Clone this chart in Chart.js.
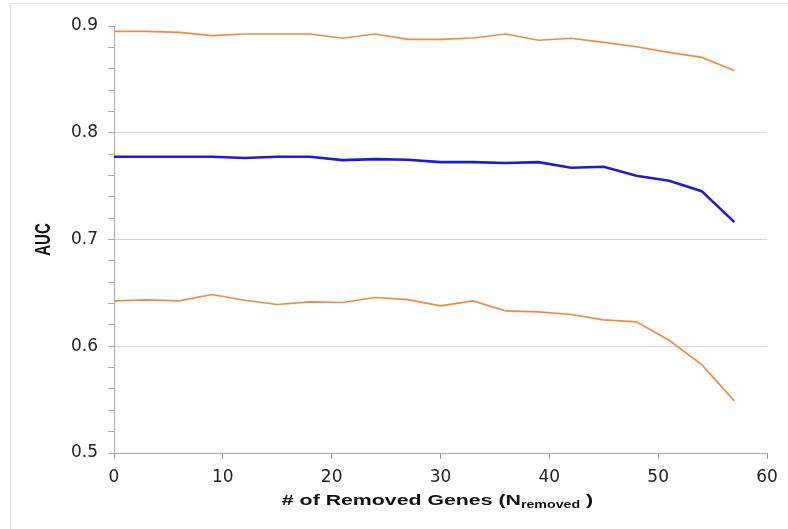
<!DOCTYPE html>
<html>
<head>
<meta charset="utf-8">
<script src="https://cdn.jsdelivr.net/npm/chart.js@4.4.1/dist/chart.umd.min.js"></script>
<style>
  html, body { margin: 0; padding: 0; background: #fff; overflow: hidden; }
  #wrap { position: relative; width: 788px; height: 529px; }
  #frame { position: absolute; left: 10px; top: 3px; width: 900px; height: 700px;
           border: 1px solid #e2e2e2; box-sizing: border-box; }
  canvas { position: absolute; left: 0; top: 0; }
</style>
</head>
<body>
<div id="wrap">
  <div id="frame"></div>
  <canvas id="myChart" width="788" height="529"></canvas>
</div>
<script>
// genes removed (x) and AUC values
const removed = [0, 3, 6, 9, 12, 15, 18, 21, 24, 27, 30, 33, 36, 39, 42, 45, 48, 51, 54, 57];
const upperAUC = [0.895, 0.895, 0.894, 0.891, 0.8925, 0.8925, 0.8925, 0.8885, 0.8925, 0.8875,
                  0.8875, 0.8887, 0.8925, 0.8866, 0.8885, 0.8847, 0.8806, 0.8753, 0.8706, 0.8584];
const meanAUC = [0.7775, 0.7775, 0.7775, 0.7775, 0.7763, 0.7775, 0.7775, 0.7744, 0.7753, 0.7747,
                 0.7725, 0.7725, 0.7716, 0.7725, 0.7672, 0.7681, 0.7597, 0.755, 0.7453, 0.7163];
const lowerAUC = [0.6425, 0.6434, 0.6425, 0.6484, 0.6431, 0.6391, 0.6416, 0.641, 0.6456, 0.6437,
                  0.6378, 0.6425, 0.6331, 0.6322, 0.6297, 0.6247, 0.6228, 0.6056, 0.5827, 0.5488];
const majorTicks = [0.5, 0.6, 0.7, 0.8, 0.9];

const FONT = '"DejaVu Sans", "Liberation Sans", Arial, sans-serif';
const BOLD = 'bold 15px "Liberation Sans", Arial, sans-serif';
const STRETCH = 1.42; // the original picture is stretched sideways

function toPoints(ys) {
    return removed.map((x, i) => ({ x: x, y: ys[i] }));
}

function isMajor(v) {
    return majorTicks.some(m => Math.abs(m - v) < 1e-6);
}

// axis titles: x title has a subscript, both drawn a bit wide like the original
const titlePlugin = {
    id: 'axisTitles',
    afterDraw(chart) {
        const ctx = chart.ctx;
        const area = chart.chartArea;
        const small = 'bold 10px "Liberation Sans", Arial, sans-serif';
        const parts = [
            { t: '# of Removed Genes (N', f: BOLD, dy: 0 },
            { t: 'removed', f: small, dy: 4 },
            { t: ' )', f: BOLD, dy: 0 }
        ];
        ctx.save();
        ctx.fillStyle = '#111';
        ctx.textBaseline = 'middle';
        ctx.textAlign = 'left';
        let total = 0;
        parts.forEach(p => { ctx.font = p.f; p.w = ctx.measureText(p.t).width; total += p.w; });
        const cx = (area.left + area.right) / 2 - 3;
        ctx.translate(cx, 501);
        ctx.scale(STRETCH, 1);
        let x = -total / 2;
        parts.forEach(p => {
            ctx.font = p.f;
            ctx.fillText(p.t, x, p.dy);
            x += p.w;
        });
        ctx.restore();

        ctx.save();
        ctx.fillStyle = '#111';
        ctx.font = BOLD;
        ctx.textAlign = 'center';
        ctx.textBaseline = 'middle';
        ctx.translate(44, (area.top + area.bottom) / 2);
        ctx.rotate(-Math.PI / 2);
        ctx.scale(1, STRETCH);
        ctx.fillText('AUC', 0, 0);
        ctx.restore();
    }
};

const ctx = document.getElementById('myChart').getContext('2d');
new Chart(ctx, {
    type: 'line',
    data: {
        datasets: [
            { label: 'Upper', data: toPoints(upperAUC), borderColor: '#ef8a45', borderWidth: 1.6 },
            { label: 'Mean', data: toPoints(meanAUC), borderColor: '#1c1cd6', borderWidth: 2.6 },
            { label: 'Lower', data: toPoints(lowerAUC), borderColor: '#ef8a45', borderWidth: 1.6 }
        ]
    },
    options: {
        responsive: false,
        animation: false,
        layout: { padding: { left: 0, right: 21, top: 26, bottom: 0 } },
        elements: { point: { radius: 0 }, line: { tension: 0, fill: false } },
        plugins: { legend: { display: false }, tooltip: { enabled: false } },
        scales: {
            x: {
                type: 'linear',
                min: 0,
                max: 60,
                ticks: {
                    stepSize: 10,
                    padding: 8,
                    color: '#222',
                    font: { family: FONT, size: 17 }
                },
                grid: { drawOnChartArea: false, tickLength: 6, tickColor: '#999' },
                border: { color: '#aaa' },
                afterFit(scale) { scale.height = 76; }
            },
            y: {
                min: 0.5,
                max: 0.9,
                ticks: {
                    stepSize: 0.02,
                    autoSkip: false,
                    padding: 10,
                    color: '#222',
                    font: { family: FONT, size: 17 },
                    callback: v => isMajor(v) ? v.toFixed(1) : ''
                },
                grid: {
                    tickLength: 6,
                    tickColor: '#aaa',
                    color: c => (c.tick && isMajor(c.tick.value) && c.tick.value > 0.55 && c.tick.value < 0.85) ? '#d8d8d8' : 'rgba(0,0,0,0)'
                },
                border: { color: '#aaa' },
                afterFit(scale) { scale.width = 114; }
            }
        }
    },
    plugins: [titlePlugin]
});
</script>
</body>
</html>
